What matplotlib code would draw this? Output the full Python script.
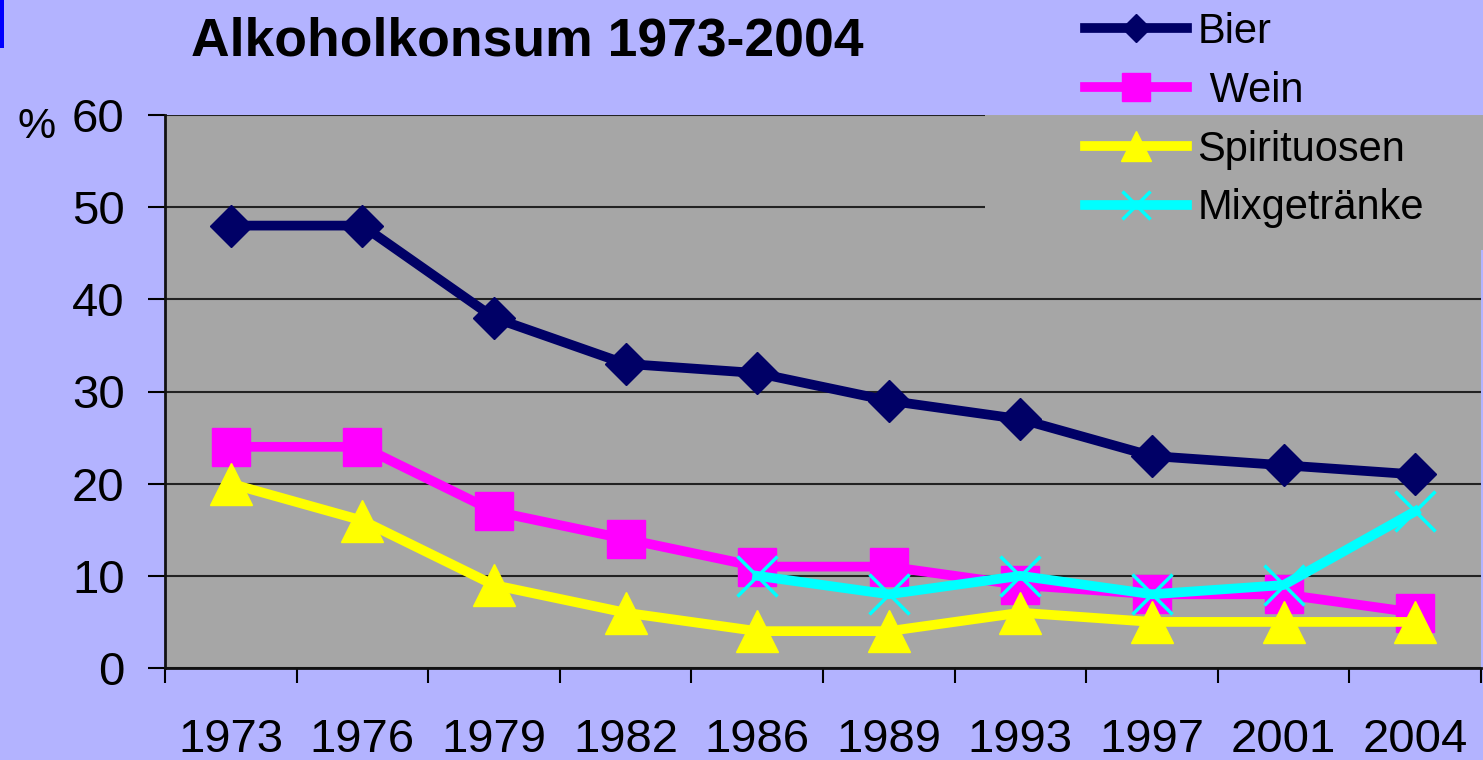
import matplotlib
matplotlib.use("Agg")
import matplotlib.pyplot as plt
from matplotlib.patches import Rectangle
import numpy as np

# data (percent share of alcohol consumption)
years = ['1973', '1976', '1979', '1982', '1986', '1989', '1993', '1997', '2001', '2004']
bier = [48, 48, 38, 33, 32, 29, 27, 23, 22, 21]
wein = [24, 24, 17, 14, 11, 11, 9, 8, 8, 6]
spirituosen = [20, 16, 9, 6, 4, 4, 6, 5, 5, 5]
mix = [np.nan, np.nan, np.nan, np.nan, 10, 8, 10, 8, 9, 17]
yticks = [0, 10, 20, 30, 40, 50, 60]

plt.rcParams['font.family'] = ['Liberation Sans', 'DejaVu Sans']
bg = '#b3b3ff'
plotbg = '#a6a6a6'

fig = plt.figure(figsize=(14.83, 7.60), dpi=100, facecolor=bg)
ax = fig.add_axes([165/1483, 1-668/760, (1481-165)/1483, (668-115)/760])
ax.set_facecolor(plotbg)

x = np.arange(len(years))
ax.plot(x, bier, color='#000066', lw=7, marker='D', ms=21, label='Bier', zorder=2)
ax.plot(x, wein, color='#ff00ff', lw=7, marker='s', ms=28, label=' Wein', zorder=3)
ax.plot(x, spirituosen, color='#ffff00', lw=7, marker='^', ms=30, label='Spirituosen', zorder=4)
ax.plot(x, mix, color='#00ffff', lw=7, marker='x', ms=29, mew=2.5, label='Mixgetränke', zorder=5)

ax.set_xlim(-0.5, len(years)-0.5)
ax.set_ylim(0, 60)
ax.set_yticks(yticks)
ax.set_xticks(x)
ax.set_xticklabels(years)
ax.set_xticks(np.arange(-0.5, len(years)), minor=True)
ax.tick_params(axis='x', which='major', length=0, pad=36, labelsize=34)
ax.tick_params(axis='x', which='minor', length=11, width=1.5, direction='out')
ax.tick_params(axis='y', length=12, width=1.5, pad=17, labelsize=34)

ax.set_axisbelow(True)
ax.yaxis.grid(True, color='#222222', lw=1.5)
for s in ['top', 'right']:
    ax.spines[s].set_visible(False)
for s in ['left', 'bottom']:
    ax.spines[s].set_linewidth(2)
    ax.spines[s].set_color('#111111')

# legend area hides the upper gridlines
ax.add_patch(Rectangle((0.623, 0.755), 0.38, 0.245, transform=ax.transAxes,
                       facecolor=plotbg, edgecolor='none', zorder=1, clip_on=False))

fig.legend(loc='upper left', bbox_to_anchor=(1085/1483, 1-12/760), frameon=False,
           fontsize=30, handlelength=2.45, handletextpad=0.25, labelspacing=0.45,
           borderpad=0, borderaxespad=0, markerscale=0.7)

fig.text(527/1483, 1-42/760, 'Alkoholkonsum 1973-2004', ha='center', va='center',
         fontsize=38.5, fontweight='bold')
fig.text(37/1483, 1-127/760, '%', ha='center', va='center', fontsize=31)

# small blue mark in the top-left corner of the original
fig.add_artist(Rectangle((0, 1-48/760), 4/1483, 48/760, transform=fig.transFigure,
                         facecolor='#0000ff', edgecolor='none'))

fig.savefig('out.png', dpi=100, facecolor=bg)
